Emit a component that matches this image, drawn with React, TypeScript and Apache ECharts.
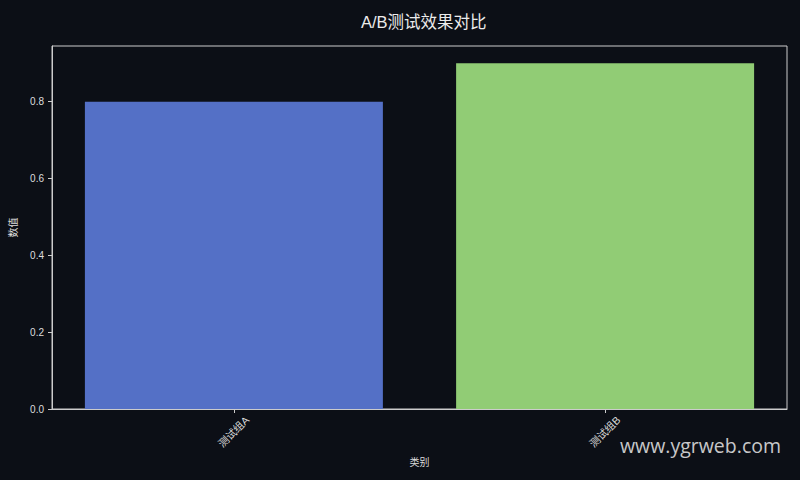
import { useEffect, useRef } from 'react'
import * as echarts from 'echarts'

const categories = ['测试组A', '测试组B']
const values = [0.8, 0.9]
const barColors = ['#5470c6', '#91cc75']
const yTicks = [0, 0.2, 0.4, 0.6, 0.8]

const FONT = '"Liberation Sans", "Noto Sans CJK SC", sans-serif'

export default function App() {
  const chartRef = useRef<HTMLDivElement | null>(null)

  useEffect(() => {
    if (!chartRef.current) {
      return undefined
    }

    const chart = echarts.init(chartRef.current, undefined, { renderer: 'svg' })
    const positions = categories.map((_, i) => i)

    chart.setOption({
      animation: false,
      backgroundColor: '#0c0f16',
      textStyle: { fontFamily: FONT },
      title: {
        text: 'A/B测试效果对比',
        left: 356,
        top: 9,
        textStyle: { color: '#ececec', fontSize: 16.5, fontWeight: 'normal', fontFamily: FONT },
      },
      grid: {
        left: 50,
        right: 13,
        top: 46,
        bottom: 71,
        show: true,
        borderColor: '#cccccc',
        borderWidth: 1,
        backgroundColor: 'transparent',
      },
      xAxis: {
        type: 'value',
        min: -0.49,
        max: 1.49,
        name: '类别',
        nameLocation: 'middle',
        nameGap: 48,
        nameTextStyle: { color: '#dddddd', fontSize: 10 },
        splitLine: { show: false },
        axisLine: { show: true, onZero: false, lineStyle: { color: '#cccccc' } },
        axisTick: { show: true, length: 4, customValues: positions, lineStyle: { color: '#cccccc' } },
        axisLabel: {
          customValues: positions,
          color: '#dddddd',
          fontSize: 10.5,
          rotate: 45,
          align: 'center',
          verticalAlign: 'middle',
          margin: 23,
          formatter: (v: number) => categories[Math.round(v)] ?? '',
        },
      },
      yAxis: {
        type: 'value',
        min: 0,
        max: 0.945,
        name: '数值',
        nameLocation: 'middle',
        nameGap: 34,
        nameTextStyle: { color: '#dddddd', fontSize: 10 },
        axisLine: { show: true, onZero: false, lineStyle: { color: '#cccccc' } },
        axisTick: { show: true, length: 4, customValues: yTicks, lineStyle: { color: '#cccccc' } },
        axisLabel: {
          customValues: yTicks,
          color: '#dddddd',
          fontSize: 10,
          margin: 8,
          formatter: (v: number) => v.toFixed(1),
        },
        splitLine: { show: false },
      },
      series: [
        {
          type: 'bar',
          barWidth: 298,
          data: values.map((v, i) => ({ value: [positions[i], v], itemStyle: { color: barColors[i] } })),
        },
      ],
      graphic: [
        {
          type: 'text',
          right: 19,
          top: 435,
          style: {
            text: 'www.ygrweb.com',
            fill: 'rgba(235,235,235,0.85)',
            fontSize: 19.5,
            fontFamily: '"Open Sans", "Noto Sans", sans-serif',
          },
        },
      ],
    })

    return () => {
      chart.dispose()
    }
  }, [])

  return (
    <div
      ref={chartRef}
      style={{ position: 'fixed', left: 0, top: 0, width: 800, height: 480 }}
    />
  )
}
